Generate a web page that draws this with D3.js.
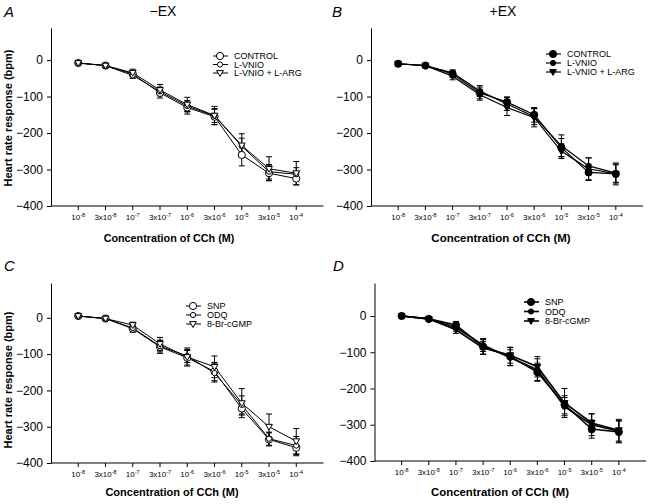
<!DOCTYPE html>
<html><head><meta charset="utf-8">
<script src="https://cdn.jsdelivr.net/npm/d3@7"></script>
<style>
body{margin:0;background:#fff;}
svg{font-family:"Liberation Sans",Arial,sans-serif;}
</style></head>
<body>
<svg id="c" width="651" height="504"></svg>
<script>
// ---------- data ----------
const xBase = ["10","3x10","10","3x10","10","3x10","10","3x10","10"];
const xExp  = ["-8","-8","-7","-7","-6","-6","-5","-5","-4"];
const yTicks = [0,-100,-200,-300,-400];

const namesAB = ["CONTROL","L-VNIO","L-VNIO + L-ARG"];
const namesCD = ["SNP","ODQ","8-Br-cGMP"];

// Panel A (−EX)
const aControl    = [-8,-15,-38,-90,-130,-155,-260,-310,-325];
const aControlErr = [2,4,8,14,18,22,30,20,17];
const aVnio       = [-8,-15,-42,-86,-126,-153,-236,-306,-313];
const aVnioErr    = [2,4,8,12,15,18,22,20,18];
const aArg        = [-8,-15,-35,-82,-122,-152,-234,-298,-310];
const aArgErr     = [2,4,10,15,20,25,32,33,32];

// Panel B (+EX)
const bControl    = [-10,-15,-38,-90,-115,-150,-240,-308,-312];
const bControlErr = [3,4,10,16,14,20,25,22,25];
const bVnio       = [-10,-15,-35,-85,-120,-155,-235,-290,-310];
const bVnioErr    = [3,4,8,15,18,22,30,22,25];
const bArg        = [-10,-15,-44,-95,-130,-158,-250,-298,-312];
const bArgErr     = [3,4,10,15,22,25,20,30,30];

// Panel C (−EX)
const cSnp        = [5,-2,-30,-80,-110,-148,-250,-335,-358];
const cSnpErr     = [2,3,10,18,20,25,18,18,22];
const cOdq        = [5,-2,-28,-78,-105,-152,-240,-333,-352];
const cOdqErr     = [2,3,8,16,18,25,25,18,25];
const cBr         = [5,-2,-20,-72,-108,-135,-235,-300,-340];
const cBrErr      = [2,3,8,18,25,30,40,35,35];

// Panel D (+EX)
const dSnp        = [0,-8,-25,-85,-112,-155,-245,-312,-320];
const dSnpErr     = [2,3,10,20,25,25,25,25,30];
const dOdq        = [0,-8,-32,-80,-115,-148,-250,-300,-318];
const dOdqErr     = [2,3,10,18,22,30,25,30,30];
const dBr         = [0,-8,-38,-88,-108,-140,-240,-295,-315];
const dBrErr      = [2,3,10,18,22,28,40,25,30];

// ---------- layout ----------
const panels = [
  {letter:"A", title:"\u2212EX", tx:163, lx:4, ax:51, xr:323.5, yb:206, yt:28, ytop:88, ytitle:true, ycenter:118, titleX:169, titleY:242, titleFs:10.8,
   legX:220, legY:[56,64.5,73], filled:false, lw:1,
   series:[[aControl,aControlErr,"big"],[aVnio,aVnioErr,"small"],[aArg,aArgErr,"tri"]], names:namesAB},
  {letter:"B", title:"+EX", tx:503, lx:332, ax:371, xr:643, yb:206, yt:28, ytop:88, ytitle:false, titleX:501, titleY:242, titleFs:11.5,
   legX:553, legY:[54,63,72], filled:true, lw:1.2,
   series:[[bControl,bControlErr,"big"],[bVnio,bVnioErr,"small"],[bArg,bArgErr,"tri"]], names:namesAB},
  {letter:"C", title:"", lx:4, ax:51, xr:323.5, yb:463, yt:283, ytop:96, ytitle:true, ycenter:380, titleX:172, titleY:496, titleFs:11,
   legX:193, legY:[306,315,324], filled:false, lw:1,
   series:[[cSnp,cSnpErr,"big"],[cOdq,cOdqErr,"small"],[cBr,cBrErr,"tri"]], names:namesCD},
  {letter:"D", title:"", lx:333, ax:374.5, xr:646, yb:461, yt:283, ytop:91, ytitle:false, titleX:500, titleY:496, titleFs:11.4,
   legX:531, legY:[302,311.5,321], filled:true, lw:1.6,
   series:[[dSnp,dSnpErr,"big"],[dOdq,dOdqErr,"small"],[dBr,dBrErr,"tri"]], names:namesCD}
];

const svg = d3.select("#c");

function drawSymbol(g, type, x, y, filled){
  const fill = filled ? "#000" : "#fff";
  if(type==="big"){
    g.append("circle").attr("cx",x).attr("cy",y).attr("r",3.6).attr("fill",fill).attr("stroke","#000").attr("stroke-width",1);
  } else if(type==="small"){
    g.append("circle").attr("cx",x).attr("cy",y).attr("r",2.6).attr("fill",fill).attr("stroke","#000").attr("stroke-width",1);
  } else {
    const s=3.4;
    g.append("path").attr("d",`M${x-s},${y-s*0.7}L${x+s},${y-s*0.7}L${x},${y+s*1.0}Z`)
      .attr("fill",fill).attr("stroke","#000").attr("stroke-width",1);
  }
}

panels.forEach(p=>{
  const g = svg.append("g");
  const x = d3.scaleLinear().domain([-1,9]).range([p.ax,p.xr]);
  const y = d3.scaleLinear().domain([-400,p.ytop]).range([p.yb,p.yt]);

  g.append("text").attr("x",p.lx).attr("y",p.yt-12+ (p.letter==="A"||p.letter==="B"? 1:0))
    .attr("font-size",15).attr("font-style","italic").text(p.letter);
  if(p.title) g.append("text").attr("x",p.tx).attr("y",16).attr("text-anchor","middle")
    .attr("font-size",14).text(p.title);

  const ya = d3.axisLeft(y).tickValues(yTicks).tickSize(4).tickSizeOuter(0).tickFormat(d3.format("d"));
  const yg = g.append("g").attr("transform",`translate(${p.ax},0)`).call(ya);
  yg.selectAll("text").attr("font-size",12).attr("fill","#000").attr("dx",-1);
  yg.selectAll("line,path").attr("stroke","#000");

  const xg = g.append("g");
  xg.append("line").attr("x1",p.ax).attr("x2",p.xr).attr("y1",p.yb).attr("y2",p.yb).attr("stroke","#000");
  d3.range(9).forEach(i=>{
    xg.append("line").attr("x1",x(i)).attr("x2",x(i)).attr("y1",p.yb).attr("y2",p.yb+4).attr("stroke","#000");
    const t = xg.append("text").attr("x",x(i)).attr("y",p.yb+14).attr("text-anchor","middle").attr("font-size",8);
    t.append("tspan").text(xBase[i]);
    t.append("tspan").attr("dy",-3).attr("font-size",5.5).text(xExp[i]);
  });
  g.append("text").attr("x",p.titleX).attr("y",p.titleY).attr("text-anchor","middle")
    .attr("font-size",p.titleFs).attr("font-weight","bold").text("Concentration of CCh (M)");
  if(p.ytitle){
    g.append("text").attr("transform",`translate(12,${p.ycenter}) rotate(-90)`).attr("text-anchor","middle")
      .attr("font-size",11).attr("font-weight","bold").text("Heart rate response (bpm)");
  }

  const line = d3.line().x((d,i)=>x(i)).y(d=>y(d));
  p.series.forEach(([vals,errs,type])=>{
    const sg = g.append("g");
    vals.forEach((v,i)=>{
      const e = errs[i];
      sg.append("line").attr("x1",x(i)).attr("x2",x(i)).attr("y1",y(v-e)).attr("y2",y(v+e)).attr("stroke","#000").attr("stroke-width",1);
      [v-e,v+e].forEach(c=>sg.append("line").attr("x1",x(i)-3).attr("x2",x(i)+3).attr("y1",y(c)).attr("y2",y(c)).attr("stroke","#000").attr("stroke-width",1));
    });
    sg.append("path").datum(vals).attr("d",line).attr("fill","none").attr("stroke","#000").attr("stroke-width",p.lw);
  });
  p.series.forEach(([vals,errs,type])=>{
    vals.forEach((v,i)=>drawSymbol(g,type,x(i),y(v),p.filled));
  });

  p.names.forEach((n,k)=>{
    const ly = p.legY[k];
    g.append("line").attr("x1",p.legX-7).attr("x2",p.legX+8).attr("y1",ly).attr("y2",ly).attr("stroke","#000").attr("stroke-width",p.lw);
    drawSymbol(g,p.series[k][2],p.legX,ly,p.filled);
    g.append("text").attr("x",p.legX+14).attr("y",ly+3.3).attr("font-size",9).text(n);
  });
});
</script>
</body></html>
